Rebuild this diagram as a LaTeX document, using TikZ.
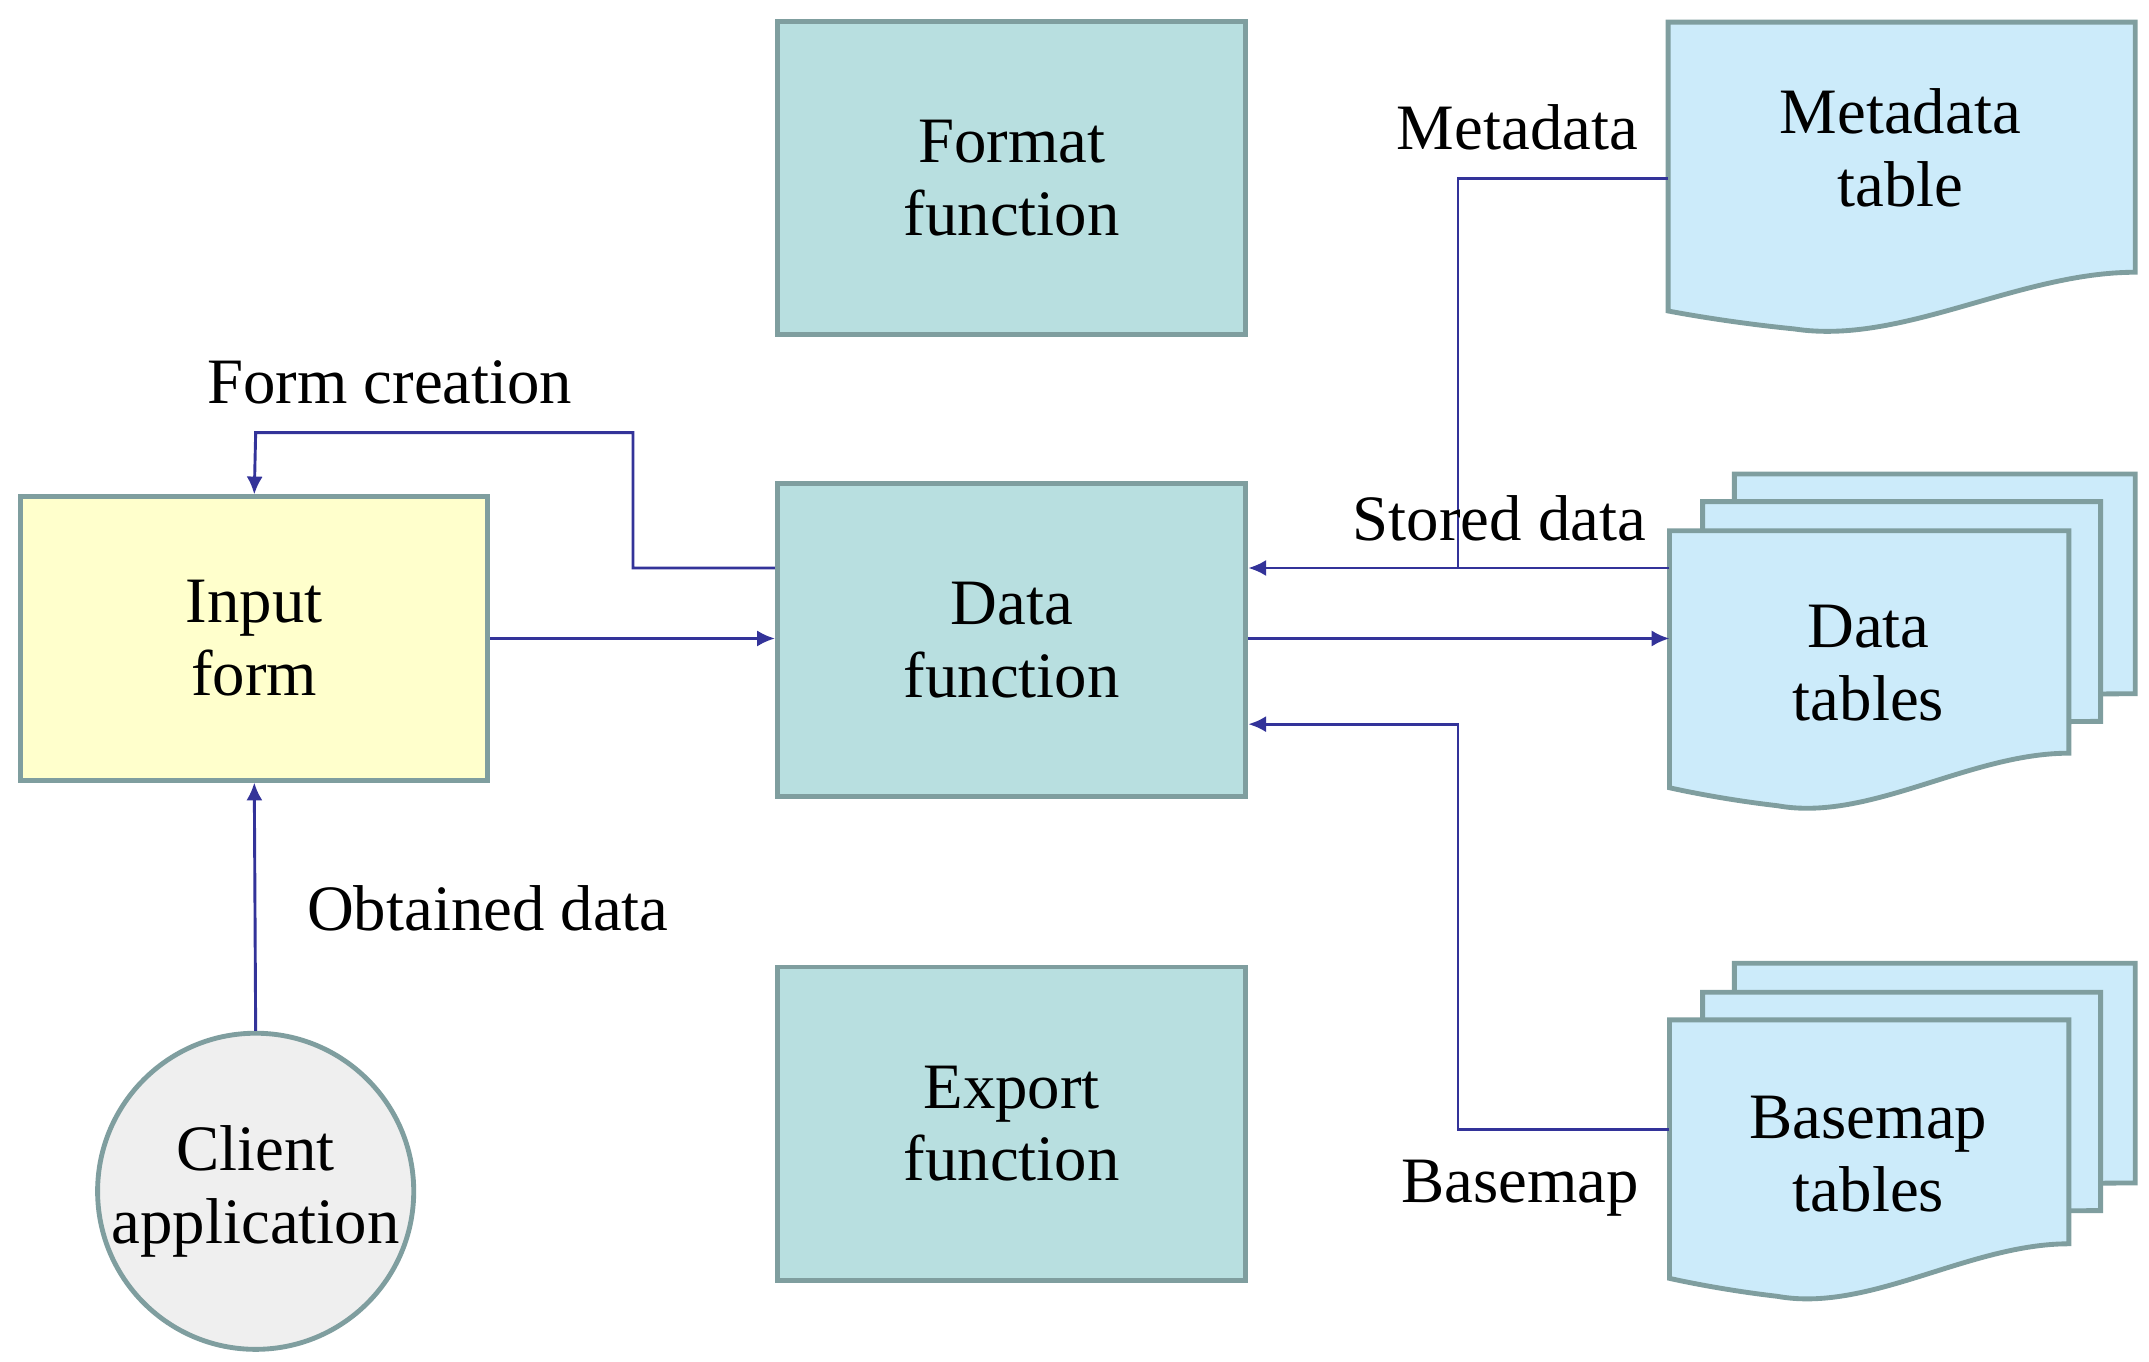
\documentclass[tikz,border=0pt]{standalone}
\usepackage{fontspec}
\setmainfont{Liberation Serif}
\usetikzlibrary{arrows.meta}
\definecolor{boxf}{HTML}{B8DFE0}
\definecolor{bord}{HTML}{7F9E9F}
\definecolor{docf}{HTML}{CCEBFA}
\definecolor{yel}{HTML}{FFFFCC}
\definecolor{circf}{HTML}{EFEFEF}
\definecolor{arr}{HTML}{333399}
\newcommand{\mydoc}[5]{%
 \draw[docshape] (#1,#2) -- (#3,#2) -- (#3,#5) .. controls ({#3-0.25*(#3-#1)},#5) and ({#1+0.5*(#3-#1)},{#4+25}) .. ({#1+0.27*(#3-#1)},{#4+13}) .. controls ({#1+0.12*(#3-#1)},{#4+8}) and (#1,#4) .. (#1,#4) -- cycle;}
\begin{document}
\begin{tikzpicture}[x={(0.03cm,0)},y={(0,-0.03cm)},
 every node/.style={font=\fontsize{40}{45}\selectfont},
 box/.style={draw=bord,line width=3pt,fill=boxf,align=center,inner sep=0pt,minimum width=10.17cm,minimum height=6.8cm},
 docshape/.style={draw=bord,line width=3pt,fill=docf},
 con/.style={draw=arr,line width=1.8pt},
 ar/.style={con,-{Latex[length=11pt,width=10pt]}},
 lab/.style={inner sep=0pt,align=center}]
\useasboundingbox (0,0) rectangle (1555,985);
\node[box] (fmt) at (732,129) {Format\\function};
\node[box] (dat) at (732,463) {Data\\function};
\node[box] (exp) at (732,813) {Export\\function};
\node[box,fill=yel,minimum width=10.14cm,minimum height=6.15cm] (inp) at (184,462) {Input\\form};
\node[draw=bord,line width=3pt,fill=circf,circle,minimum size=6.7cm,inner sep=0pt,align=center] (cli) at (185,862) {Client\\application};
% documents
\mydoc{1207}{16}{1545}{225}{197}
\node[lab] (meta) at (1375,107) {Metadata\\table};
\mydoc{1255}{343}{1545}{482}{502}
\mydoc{1232}{363}{1520}{502}{522}
\mydoc{1208}{384}{1497}{570}{545}
\node[lab] (dtab) at (1352,480) {Data\\tables};
\mydoc{1255}{697}{1545}{836}{856}
\mydoc{1232}{718}{1520}{856}{876}
\mydoc{1208}{738}{1497}{925}{900}
\node[lab] (btab) at (1352,835) {Basemap\\tables};
\coordinate (metaL) at (1207,129);
\coordinate (dtL1) at (1208,411);
\coordinate (dtL2) at (1208,462);
\coordinate (bmL) at (1208,817);
\coordinate (j) at (1055,411);
% connectors
\draw[ar] (dat.west |- 0,411) -- (458,411) -- (458,313) -- (185,313) -- (inp.north);
\draw[ar] (inp.east) -- (dat.west |- inp.east);
\draw[ar] (cli.north) -- (inp.south);
\draw[con] (metaL) -- (1055,129) -- (j);
\draw[ar] (dtL1) -- (dat.east |- dtL1);
\draw[ar] (dat.east |- dtL2) -- (dtL2);
\draw[ar] (bmL) -- (1055,817) -- (1055,524) -- (dat.east |- 0,524);
% labels
\node[lab] (l1) at (282,277) {Form creation};
\node[lab] (l2) at (353,657) {Obtained data};
\node[lab] (l3) at (1098,92) {Metadata};
\node[lab] (l4) at (1085,375) {Stored data};
\node[lab] (l5) at (1100,860) {Basemap};
\end{tikzpicture}
\end{document}
